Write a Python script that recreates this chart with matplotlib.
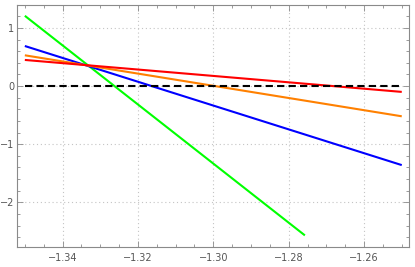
import matplotlib
matplotlib.use("Agg")
import matplotlib.pyplot as plt
from matplotlib.ticker import MultipleLocator

# line endpoints
x_full = [-1.35, -1.25]
y_blue = [0.69, -1.36]
y_orange = [0.53, -0.52]
y_red = [0.45, -0.10]
x_green = [-1.35, -1.2757]
y_green = [1.21, -2.57]
x_zero = [-1.35, -1.25]
y_zero = [0, 0]

W, H = 415, 267
fig = plt.figure(figsize=(W / 100, H / 100), dpi=100)
ax = fig.add_axes([17.3 / W, 1 - 247.3 / H, (409.3 - 17.3) / W, (247.3 - 4.7) / H])

ax.plot(x_green, y_green, color=(0, 1, 0), lw=1.5, solid_capstyle="butt")
ax.plot(x_full, y_blue, color=(0, 0, 1), lw=1.5, solid_capstyle="butt")
ax.plot(x_full, y_orange, color=(1, 0.5, 0), lw=1.5, solid_capstyle="butt")
ax.plot(x_full, y_red, color=(1, 0, 0), lw=1.5, solid_capstyle="butt")
ax.plot(x_zero, y_zero, color="black", lw=1.5, ls=(0, (3.5, 2)))

ax.set_xlim(-1.352, -1.248)
ax.set_ylim(-2.775, 1.401)

ax.xaxis.set_major_locator(MultipleLocator(0.02))
ax.xaxis.set_minor_locator(MultipleLocator(0.005))
ax.yaxis.set_major_locator(MultipleLocator(1))
ax.yaxis.set_minor_locator(MultipleLocator(0.2))
ax.xaxis.set_major_formatter(plt.FuncFormatter(lambda v, p: f"\u2212{abs(v):.2f}" if v < 0 else f"{v:.2f}"))
ax.yaxis.set_major_formatter(plt.FuncFormatter(lambda v, p: f"\u2212{abs(v):.0f}" if v < 0 else f"{v:.0f}"))

ax.grid(True, which="major", color="#c4c4c4", ls=(0, (1, 2.5)), lw=0.8)
ax.set_axisbelow(True)

for s in ax.spines.values():
    s.set_color("#8a8a8a")
    s.set_linewidth(0.8)

ax.tick_params(which="both", direction="in", top=True, right=True, color="#8a8a8a",
               labelcolor="#555555", labelsize=7, width=0.6)
ax.tick_params(which="major", length=4)
ax.tick_params(axis="x", which="major", pad=4)
ax.tick_params(axis="y", which="major", pad=2)
ax.tick_params(which="minor", length=2)

fig.savefig("out.png", dpi=100)
